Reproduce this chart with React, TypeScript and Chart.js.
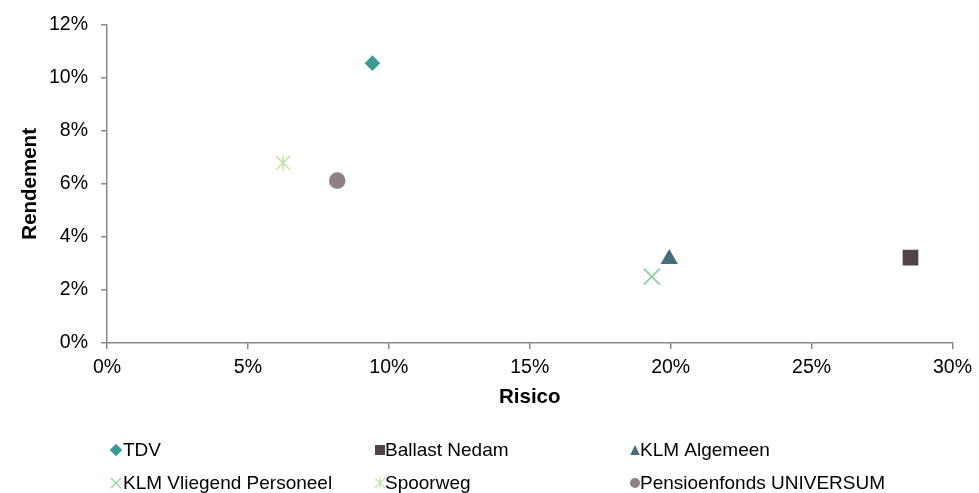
import React, { useEffect, useRef } from 'react';
import { Chart, registerables } from 'chart.js';

Chart.register(...registerables);

// ---- data ----
const seriesNames = [
  'TDV',
  'Ballast Nedam',
  'KLM Algemeen',
  'KLM Vliegend Personeel',
  'Spoorweg',
  'Pensioenfonds UNIVERSUM',
];
const risico = [9.42, 28.51, 19.95, 19.33, 6.25, 8.17];
const rendement = [10.55, 3.22, 3.17, 2.5, 6.79, 6.12];
const seriesColors = ['#3A9A94', '#4F4547', '#466E78', '#8DCF9F', '#C5E1A6', '#8C8284'];
const seriesMarkers = ['diamond', 'square', 'triangle', 'x', 'asterisk', 'circle'];
const xTickValues = [0, 5, 10, 15, 20, 25, 30];
const yTickValues = [0, 2, 4, 6, 8, 10, 12];
const xTitle = 'Risico';
const yTitle = 'Rendement';

const FONT = "'Liberation Sans', Arial, Helvetica, sans-serif";
const AXIS_COLOR = '#888888';

function makeAsterisk(size: number, color: string, lw: number) {
  const c = document.createElement('canvas');
  c.width = size;
  c.height = size;
  const ctx = c.getContext('2d')!;
  ctx.strokeStyle = color;
  ctx.lineWidth = lw;
  const h = size / 2;
  const r = size / 2 - 0.5;
  const d = r * 0.92;
  ctx.beginPath();
  ctx.moveTo(h, h - r);
  ctx.lineTo(h, h + r);
  ctx.moveTo(h - d, h - d);
  ctx.lineTo(h + d, h + d);
  ctx.moveTo(h + d, h - d);
  ctx.lineTo(h - d, h + d);
  ctx.stroke();
  return c;
}

function drawMarker(ctx: CanvasRenderingContext2D, kind: string, x: number, y: number, s: number, color: string) {
  ctx.save();
  ctx.fillStyle = color;
  ctx.strokeStyle = color;
  ctx.beginPath();
  switch (kind) {
    case 'diamond':
      ctx.moveTo(x, y - s);
      ctx.lineTo(x + s, y);
      ctx.lineTo(x, y + s);
      ctx.lineTo(x - s, y);
      ctx.closePath();
      ctx.fill();
      break;
    case 'square':
      ctx.rect(x - s, y - s, 2 * s, 2 * s);
      ctx.fill();
      break;
    case 'triangle':
      ctx.moveTo(x, y - s);
      ctx.lineTo(x + s * 0.95, y + s);
      ctx.lineTo(x - s * 0.95, y + s);
      ctx.closePath();
      ctx.fill();
      break;
    case 'x':
      ctx.lineWidth = 1.3;
      ctx.moveTo(x - s, y - s);
      ctx.lineTo(x + s, y + s);
      ctx.moveTo(x + s, y - s);
      ctx.lineTo(x - s, y + s);
      ctx.stroke();
      break;
    case 'asterisk':
      ctx.lineWidth = 1.3;
      ctx.moveTo(x - s, y - s);
      ctx.lineTo(x + s, y + s);
      ctx.moveTo(x + s, y - s);
      ctx.lineTo(x - s, y + s);
      ctx.moveTo(x, y - s * 1.1);
      ctx.lineTo(x, y + s * 1.1);
      ctx.stroke();
      break;
    case 'circle':
      ctx.arc(x, y, s, 0, Math.PI * 2);
      ctx.fill();
      break;
  }
  ctx.restore();
}

const legendPlugin = {
  id: 'customLegend',
  afterDraw(chart: any) {
    const ctx = chart.ctx as CanvasRenderingContext2D;
    const colMarkerX = [116, 380, 635];
    const colTextX = [123, 385, 640];
    const rowY = [450, 483];
    const sizes: Record<string, number> = { diamond: 6.3, square: 5, triangle: 5, x: 5, asterisk: 5, circle: 5 };
    ctx.save();
    ctx.font = `19px ${FONT}`;
    ctx.textBaseline = 'middle';
    ctx.textAlign = 'left';
    seriesNames.forEach((name, i) => {
      const col = i % 3;
      const row = Math.floor(i / 3);
      const kind = seriesMarkers[i];
      drawMarker(ctx, kind, colMarkerX[col], rowY[row], sizes[kind], seriesColors[i]);
      ctx.fillStyle = '#000';
      ctx.fillText(name, colTextX[col], rowY[row] + 1);
    });
    ctx.restore();
  },
};

export default function App() {
  const ref = useRef<HTMLCanvasElement | null>(null);

  useEffect(() => {
    if (!ref.current) return;
    const asterisk = makeAsterisk(16, seriesColors[4], 1.6);
    const pointStyles: any[] = ['rectRot', 'rect', 'triangle', 'crossRot', asterisk, 'circle'];
    const radii = [7.8, 11.1, 10, 11.3, 8, 8.3];

    const datasets = seriesNames.map((name, i) => ({
      label: name,
      data: [{ x: risico[i], y: rendement[i] }],
      pointStyle: pointStyles[i],
      pointRadius: radii[i],
      pointHoverRadius: radii[i],
      backgroundColor: seriesColors[i],
      borderColor: seriesColors[i],
      borderWidth: seriesMarkers[i] === 'x' ? 1.8 : 0,
    }));

    const chart = new Chart(ref.current, {
      type: 'scatter',
      data: { datasets },
      plugins: [legendPlugin],
      options: {
        animation: false,
        responsive: false,
        layout: { padding: { top: 23, right: 23.5, bottom: 80, left: 0 } },
        plugins: {
          legend: { display: false },
          tooltip: { enabled: false },
        },
        scales: {
          x: {
            type: 'linear',
            position: 'bottom',
            min: 0,
            max: 30,
            afterBuildTicks: (s: any) => {
              s.ticks = xTickValues.map((v) => ({ value: v }));
            },
            ticks: {
              callback: (v: any) => `${v}%`,
              font: { family: FONT, size: 19.5 },
              color: '#000',
              padding: 7,
              maxRotation: 0,
            },
            grid: { drawOnChartArea: false, drawTicks: true, tickLength: 6, color: AXIS_COLOR, lineWidth: 1.5 },
            border: { color: AXIS_COLOR, width: 1.5 },
            title: {
              display: true,
              text: xTitle,
              font: { family: FONT, size: 20.5, weight: 'bold' },
              color: '#000',
              padding: { top: 0, bottom: 3 },
            },
            afterFit: (s: any) => {
              s.height = 70;
            },
          },
          y: {
            type: 'linear',
            min: 0,
            max: 12,
            afterBuildTicks: (s: any) => {
              s.ticks = yTickValues.map((v) => ({ value: v }));
            },
            ticks: {
              callback: (v: any) => `${v}%`,
              font: { family: FONT, size: 19.5 },
              color: '#000',
              padding: 13,
            },
            grid: { drawOnChartArea: false, drawTicks: true, tickLength: 6, color: AXIS_COLOR, lineWidth: 1.5 },
            border: { color: AXIS_COLOR, width: 1.5 },
            title: {
              display: true,
              text: yTitle,
              font: { family: FONT, size: 20.5, weight: 'bold' },
              color: '#000',
              padding: { top: 18, bottom: 0 },
            },
            afterFit: (s: any) => {
              s.width = 107;
            },
          },
        },
      } as any,
    });
    return () => chart.destroy();
  }, []);

  return (
    <div style={{ position: 'absolute', left: 0, top: 0, width: 979, height: 493, background: '#fff' }}>
      <canvas ref={ref} width={979} height={493} style={{ display: 'block', width: 979, height: 493 }} />
    </div>
  );
}
